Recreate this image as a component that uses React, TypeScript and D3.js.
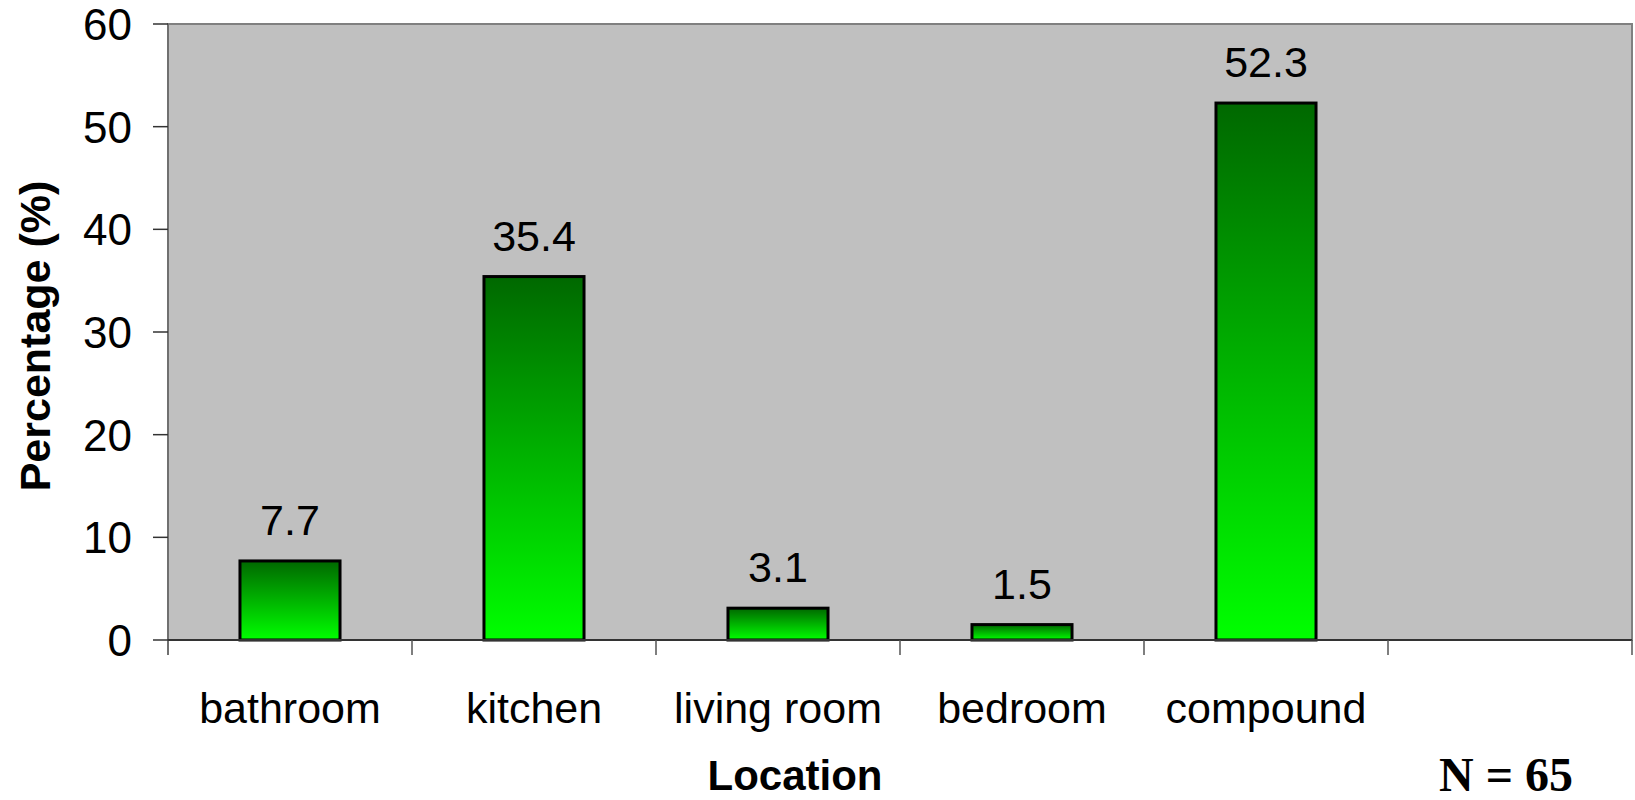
import React, { FC, useMemo } from 'react'
import * as d3 from 'd3'

const categories = ['bathroom', 'kitchen', 'living room', 'bedroom', 'compound']
const values = [7.7, 35.4, 3.1, 1.5, 52.3]
const yTicks = [0, 10, 20, 30, 40, 50, 60]
// one empty slot on the right of the category axis
const slots = [...categories, '']

const W = 1635
const H = 800
const margin = { left: 168, right: 3, top: 24, bottom: 160 }

const App: FC = () => {
	const innerRight = W - margin.right
	const zeroY = H - margin.bottom

	const x = useMemo(() => {
		return d3
			.scaleBand()
			.domain(slots.map((_, i) => String(i)))
			.range([margin.left, innerRight])
			.paddingInner(0.59)
			.paddingOuter(0.295)
	}, [])

	const y = useMemo(() => {
		return d3.scaleLinear().domain([0, 60]).range([zeroY, margin.top])
	}, [])

	const step = x.step()
	const font = '"Liberation Sans", Arial, sans-serif'

	return (
		<svg width={W} height={H} style={{ display: 'block', position: 'absolute', left: 0, top: 0 }}>
			<defs>
				<linearGradient id="barFill" x1="0" y1="0" x2="0" y2="1">
					<stop offset="0" stopColor="#006800" />
					<stop offset="1" stopColor="#00ff00" />
				</linearGradient>
			</defs>
			<rect x={0} y={0} width={W} height={H} fill="#fff" />

			{/* plot area */}
			<rect
				x={margin.left}
				y={margin.top}
				width={innerRight - margin.left}
				height={zeroY - margin.top}
				fill="#c0c0c0"
				stroke="#808080"
				strokeWidth={2}
			/>

			{/* bars */}
			<g>
				{values.map((v, i) => (
					<rect
						key={i}
						x={x(String(i))}
						y={y(v)}
						width={x.bandwidth()}
						height={zeroY - y(v)}
						fill="url(#barFill)"
						stroke="#000"
						strokeWidth={3}
					/>
				))}
			</g>

			{/* value labels */}
			<g fontFamily={font} fontSize={43} textAnchor="middle" fill="#000">
				{values.map((v, i) => (
					<text key={i} x={(x(String(i)) as number) + x.bandwidth() / 2} y={y(v) - 26}>
						{v.toFixed(1)}
					</text>
				))}
			</g>

			{/* y axis */}
			<line x1={margin.left} x2={margin.left} y1={margin.top} y2={zeroY + 15} stroke="#707070" strokeWidth={2} />
			<g fontFamily={font} fontSize={44} textAnchor="end" fill="#000">
				{yTicks.map((t) => (
					<g key={t}>
						<line x1={margin.left - 15} x2={margin.left} y1={y(t)} y2={y(t)} stroke="#333" strokeWidth={1.5} />
						<text x={132} y={y(t) + 16}>
							{t}
						</text>
					</g>
				))}
			</g>

			{/* x axis */}
			<line x1={margin.left} x2={innerRight} y1={zeroY} y2={zeroY} stroke="#333" strokeWidth={2} />
			{slots.map((_, i) => (
				<line
					key={i}
					x1={margin.left + step * (i + 1)}
					x2={margin.left + step * (i + 1)}
					y1={zeroY}
					y2={zeroY + 15}
					stroke="#555"
					strokeWidth={1.5}
				/>
			))}
			<g fontFamily={font} fontSize={43} textAnchor="middle" fill="#000">
				{categories.map((c, i) => (
					<text key={c} x={(x(String(i)) as number) + x.bandwidth() / 2} y={723}>
						{c}
					</text>
				))}
			</g>

			{/* titles */}
			<text x={795} y={790} fontFamily={font} fontSize={42} fontWeight="bold" textAnchor="middle">
				Location
			</text>
			<text
				transform={`translate(50, ${(margin.top + zeroY) / 2 + 4}) rotate(-90)`}
				fontFamily={font}
				fontSize={43}
				fontWeight="bold"
				textAnchor="middle"
			>
				Percentage (%)
			</text>
			<text x={1439} y={791} fontFamily='"Liberation Serif", "Times New Roman", serif' fontSize={48} fontWeight="bold">
				N = 65
			</text>
		</svg>
	)
}

export default App
